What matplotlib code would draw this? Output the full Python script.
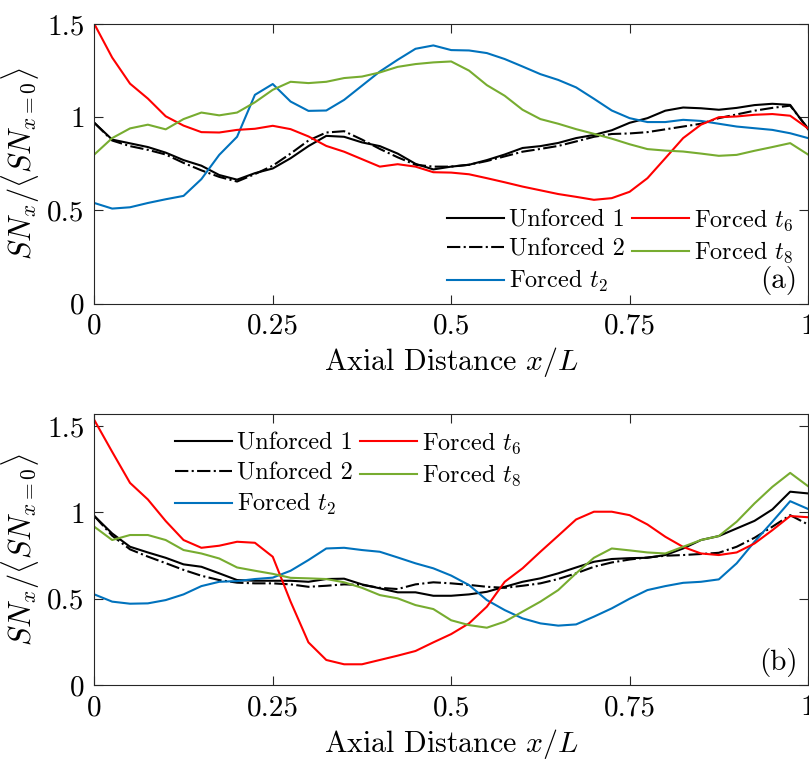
import numpy as np
import matplotlib
matplotlib.use('Agg')
import matplotlib.pyplot as plt

plt.rcParams['font.family'] = 'cmr10'
plt.rcParams['mathtext.fontset'] = 'cm'
plt.rcParams['axes.formatter.use_mathtext'] = True

# axial stations, x/L = 0 ... 1 in steps of 0.025
x = np.linspace(0, 1, 41)

# (a) SN_x normalised by its inlet value
a_unforced1 = [0.97, 0.88, 0.86, 0.84, 0.81, 0.77, 0.74, 0.69, 0.665, 0.70,
               0.725, 0.78, 0.845, 0.90, 0.895, 0.865, 0.845, 0.805, 0.75, 0.72,
               0.735, 0.745, 0.77, 0.80, 0.835, 0.845, 0.862, 0.888, 0.905, 0.93,
               0.97, 0.995, 1.035, 1.052, 1.048, 1.04, 1.05, 1.065, 1.072, 1.066,
               0.936]
a_unforced2 = [0.97, 0.875, 0.845, 0.825, 0.80, 0.755, 0.715, 0.68, 0.655, 0.695,
               0.74, 0.805, 0.875, 0.918, 0.925, 0.88, 0.83, 0.785, 0.745, 0.735,
               0.735, 0.745, 0.765, 0.79, 0.815, 0.83, 0.846, 0.87, 0.895, 0.91,
               0.913, 0.92, 0.935, 0.95, 0.965, 0.995, 1.015, 1.035, 1.05, 1.062,
               0.94]
a_forced2 = [0.54, 0.51, 0.517, 0.54, 0.56, 0.578, 0.668, 0.798, 0.895, 1.12,
             1.178, 1.084, 1.034, 1.036, 1.093, 1.169, 1.245, 1.308, 1.367, 1.385,
             1.36, 1.358, 1.344, 1.312, 1.272, 1.231, 1.20, 1.16, 1.099, 1.036,
             0.995, 0.974, 0.974, 0.986, 0.98, 0.965, 0.95, 0.941, 0.932, 0.914,
             0.888]
a_forced6 = [1.50, 1.32, 1.18, 1.10, 1.005, 0.955, 0.92, 0.918, 0.932, 0.938,
             0.954, 0.936, 0.897, 0.846, 0.815, 0.775, 0.735, 0.748, 0.735, 0.705,
             0.703, 0.694, 0.673, 0.651, 0.628, 0.608, 0.588, 0.573, 0.557, 0.566,
             0.60, 0.673, 0.78, 0.888, 0.96, 1.0, 1.004, 1.013, 1.017, 1.008,
             0.94]
a_forced8 = [0.80, 0.888, 0.94, 0.96, 0.935, 0.99, 1.025, 1.01, 1.025, 1.08,
             1.147, 1.19, 1.183, 1.19, 1.21, 1.218, 1.24, 1.27, 1.285, 1.294,
             1.299, 1.25, 1.172, 1.115, 1.04, 0.99, 0.965, 0.936, 0.911, 0.885,
             0.855, 0.829, 0.821, 0.816, 0.805, 0.793, 0.798, 0.82, 0.84, 0.861,
             0.80]

# (b)
b_unforced1 = [0.979, 0.878, 0.801, 0.768, 0.737, 0.699, 0.685, 0.647, 0.608, 0.604,
               0.604, 0.604, 0.598, 0.614, 0.616, 0.583, 0.56, 0.537, 0.537, 0.517,
               0.517, 0.525, 0.54, 0.569, 0.598, 0.618, 0.647, 0.681, 0.714, 0.73,
               0.735, 0.737, 0.753, 0.791, 0.84, 0.863, 0.907, 0.951, 1.017, 1.12,
               1.11]
b_unforced2 = [0.979, 0.865, 0.786, 0.744, 0.706, 0.667, 0.633, 0.608, 0.593, 0.589,
               0.589, 0.583, 0.569, 0.575, 0.583, 0.58, 0.563, 0.556, 0.583, 0.595,
               0.589, 0.58, 0.569, 0.563, 0.575, 0.589, 0.614, 0.647, 0.685, 0.71,
               0.727, 0.739, 0.749, 0.753, 0.759, 0.766, 0.801, 0.853, 0.917, 0.984,
               0.93]
b_forced2 = [0.525, 0.483, 0.471, 0.473, 0.492, 0.525, 0.573, 0.598, 0.602, 0.614,
             0.622, 0.662, 0.724, 0.791, 0.795, 0.782, 0.772, 0.739, 0.705, 0.676,
             0.634, 0.579, 0.492, 0.434, 0.386, 0.357, 0.344, 0.351, 0.396, 0.444,
             0.50, 0.55, 0.573, 0.592, 0.598, 0.612, 0.705, 0.83, 0.946, 1.065,
             1.02]
b_forced6 = [1.535, 1.351, 1.171, 1.075, 0.95, 0.84, 0.795, 0.807, 0.83, 0.824,
             0.743, 0.483, 0.247, 0.145, 0.12, 0.12, 0.145, 0.17, 0.197, 0.247,
             0.295, 0.357, 0.454, 0.598, 0.676, 0.772, 0.865, 0.959, 1.004, 1.004,
             0.984, 0.93, 0.859, 0.80, 0.762, 0.753, 0.768, 0.82, 0.897, 0.979,
             0.972]
b_forced8 = [0.917, 0.84, 0.869, 0.869, 0.84, 0.782, 0.762, 0.733, 0.681, 0.662,
             0.644, 0.621, 0.618, 0.614, 0.595, 0.563, 0.521, 0.502, 0.463, 0.44,
             0.375, 0.347, 0.332, 0.367, 0.425, 0.483, 0.55, 0.647, 0.737, 0.791,
             0.78, 0.768, 0.762, 0.801, 0.84, 0.863, 0.946, 1.052, 1.148, 1.229,
             1.152]

series_names = ['Unforced 1', 'Unforced 2', r'Forced $t_2$',
                r'Forced $t_6$', r'Forced $t_8$']
colors = ['k', 'k', '#0072BD', '#FF0000', '#77AC30']
styles = ['-', '-.', '-', '-', '-']

xticks = [0, 0.25, 0.5, 0.75, 1]
xtick_labels = ['0', '0.25', '0.5', '0.75', '1']
yticks = [0, 0.5, 1, 1.5]
ytick_labels = ['0', '0.5', '1', '1.5']

fig = plt.figure(figsize=(8.09, 7.59), dpi=100)
ax1 = fig.add_axes([0.1166, 0.5999, 0.8822, 0.3685])
ax2 = fig.add_axes([0.1166, 0.0975, 0.8822, 0.357])

panels = [
    (ax1, [a_unforced1, a_unforced2, a_forced2, a_forced6, a_forced8], 1.5, '(a)',
     (0.494, 0.345)),
    (ax2, [b_unforced1, b_unforced2, b_forced2, b_forced6, b_forced8], 1.57, '(b)',
     (0.113, 0.94)),
]

for ax, data, ytop, tag, leg_pos in panels:
    for y, c, ls, name in zip(data, colors, styles, series_names):
        ax.plot(x, y, color=c, ls=ls, lw=1.5, label=name)
    ax.set_xlim(0, 1)
    ax.set_ylim(0, ytop)
    ax.set_xticks(xticks)
    ax.set_xticklabels(xtick_labels)
    ax.set_yticks(yticks)
    ax.set_yticklabels(ytick_labels)
    ax.tick_params(direction='in', top=True, right=True, length=6.5,
                   width=0.8, color='0.15', labelsize=21, pad=7)
    for s in ax.spines.values():
        s.set_color('0.15')
        s.set_linewidth(0.8)
    ax.set_xlabel(r'Axial Distance $x/L$', fontsize=21.5, labelpad=4)
    ax.set_ylabel(r'$SN_x/\langle SN_{x=0}\rangle$', fontsize=22, labelpad=4)
    ax.text(0.985, 0.03, tag, transform=ax.transAxes, ha='right', va='bottom',
            fontsize=21)
    ax.legend(loc='upper left', bbox_to_anchor=leg_pos, ncol=2, frameon=False,
              fontsize=17.5, handlelength=2.35, handletextpad=0.2,
              columnspacing=0.3, labelspacing=0.3, borderaxespad=0,
              borderpad=0)

fig.savefig('out.png', dpi=100)
